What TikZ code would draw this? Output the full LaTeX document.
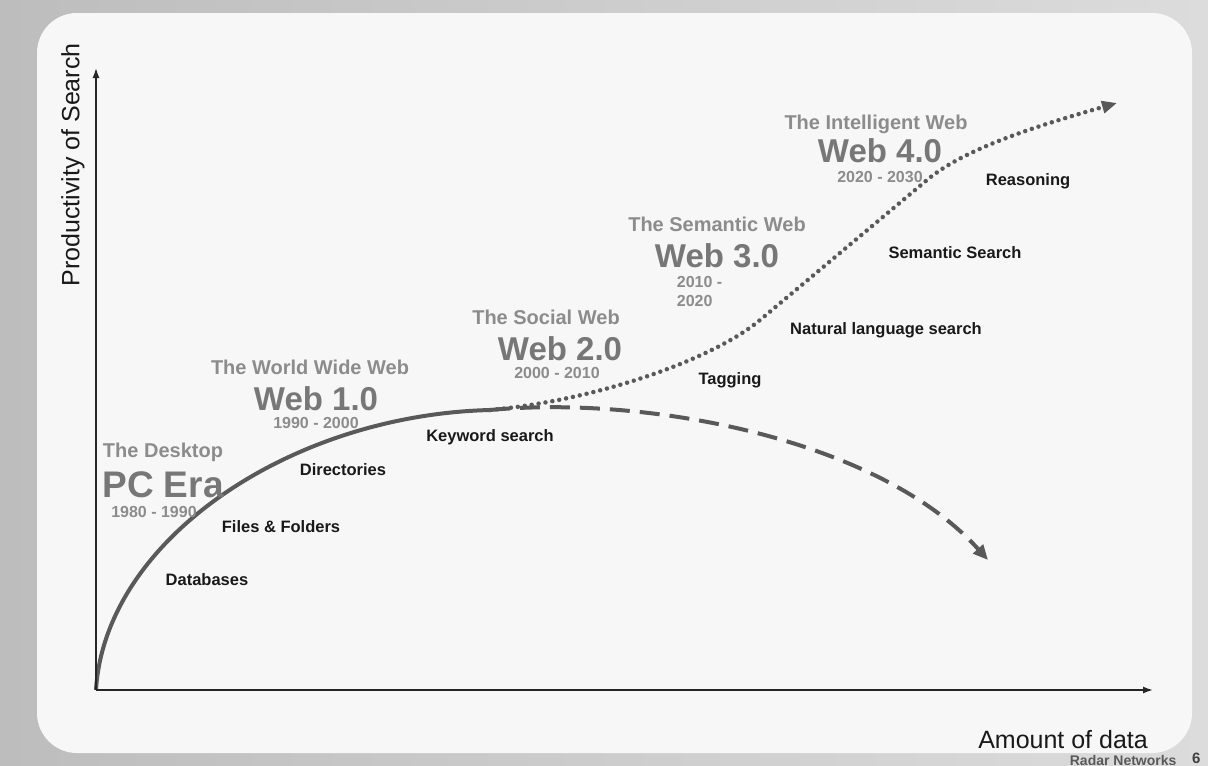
\documentclass[tikz,border=0pt]{standalone}
\usepackage{fontspec}
\setmainfont{Liberation Sans}
\usetikzlibrary{positioning,arrows.meta}
\definecolor{bgLeft}{HTML}{BDBDBD}
\definecolor{bgRight}{HTML}{DCDCDC}
\definecolor{panelWhite}{HTML}{F7F7F7}
\definecolor{titleGray}{HTML}{8C8C8C}
\definecolor{nameGray}{HTML}{777777}
\definecolor{curveGray}{HTML}{595959}
\begin{document}
\begin{tikzpicture}[x=1pt,y=-1pt,
        eraTitle/.style={
            inner sep=0pt, color=titleGray, font=\bfseries\fontsize{20}{24}\selectfont,
            text height=15pt, text depth=4pt
        },
        eraName/.style={
            inner sep=0pt, color=nameGray, font=\bfseries\fontsize{33}{36}\selectfont,
            text height=24pt, text depth=0pt
        },
        eraDate/.style={
            inner sep=0pt, color=titleGray, font=\bfseries\fontsize{16}{19}\selectfont,
            text height=12pt, text depth=0pt
        },
        searchTool/.style={
            inner sep=0pt, color=black!90, font=\bfseries\fontsize{16.5}{19}\selectfont
        },
        axisLabel/.style={
            inner sep=0pt, color=black!90, font=\fontsize{25}{28}\selectfont
        },
        axis/.style={
            draw=black!85, line width=1.5pt, -{Latex[length=10pt,width=7pt]}
        },
        trend/.style={
            draw=curveGray, line width=4pt
        },
    ]
        \useasboundingbox (0,0) rectangle (1208,766);
        \shade[left color=bgLeft, right color=bgRight] (0,0) rectangle (1208,766);
        \fill[panelWhite, rounded corners=40pt] (37,13) rectangle (1192,753);

        \coordinate (origin) at (96,690);
        \coordinate (yEnd) at (96,68);
        \coordinate (xEnd) at (1153,690);
        \coordinate (fork) at (490,410);
        \coordinate (riseStart) at (760,320);
        \coordinate (riseEnd) at (927,180);
        \coordinate (declineEnd) at (988,560);
        \coordinate (growthEnd) at (1117,103);

        \draw[trend] (origin) .. controls (105,540) and (290,415) .. (fork);
        \draw[trend, dash pattern=on 20pt off 10pt, -{Triangle[length=15pt,width=13pt]}]
            (fork) .. controls (650,395) and (880,440) .. (declineEnd);
        \draw[trend, line width=4.5pt, line cap=round, dash pattern=on 0pt off 7pt, -{Triangle[length=15pt,width=12pt]}]
            (fork) .. controls (600,400) and (715,358) .. (riseStart) -- (riseEnd)
            .. controls (965,148) and (1040,125) .. (growthEnd);

        \draw[axis] (origin) -- (yEnd);
        \draw[axis] (origin) -- (xEnd);
        \node (yLabel) [axisLabel, rotate=90] at (73,165) {Productivity of Search};
        \node (xLabel) [axisLabel, anchor=east] at (1148,740) {Amount of data};

        \node (pcTitle) [eraTitle] at (163,452) {The Desktop};
        \node (pcName) [eraName, font=\bfseries\fontsize{37}{40}\selectfont, text height=27pt, below=9pt of pcTitle] {PC Era};
        \node (pcDate) [eraDate, below=7pt of pcName, xshift=-9pt] {1980 - 1990};

        \node (webOneTitle) [eraTitle] at (310,369) {The World Wide Web};
        \node (webOne) [eraName, below=8pt of webOneTitle, xshift=6pt] {Web 1.0};
        \node (webOneDate) [eraDate, below=5pt of webOne] {1990 - 2000};

        \node (webTwoTitle) [eraTitle] at (546,319) {The Social Web};
        \node (webTwo) [eraName, below=8pt of webTwoTitle, xshift=14pt] {Web 2.0};
        \node (webTwoDate) [eraDate, below=5pt of webTwo, xshift=-3pt] {2000 - 2010};

        \node (webThreeTitle) [eraTitle] at (717,226) {The Semantic Web};
        \node (webThree) [eraName, below=8pt of webThreeTitle] {Web 3.0};
        \node (webThreeDate) [inner sep=0pt, color=titleGray, font=\bfseries\fontsize{16}{19}\selectfont, align=left,
            below=8pt of webThree.south west, anchor=north west, xshift=22pt] {2010 -\\2020};

        \node (webFourTitle) [eraTitle] at (876,124) {The Intelligent Web};
        \node (webFour) [eraName, below=5pt of webFourTitle, xshift=4pt] {Web 4.0};
        \node (webFourDate) [eraDate, below=7pt of webFour] {2020 - 2030};

        \node (databases) [searchTool] at (207,580) {Databases};
        \node (files) [searchTool] at (281,527) {Files \& Folders};
        \node (directories) [searchTool] at (343,470) {Directories};
        \node (keyword) [searchTool] at (490,437) {Keyword search};
        \node (tagging) [searchTool] at (730,380) {Tagging};
        \node (natural) [searchTool] at (886,330) {Natural language search};
        \node (semantic) [searchTool] at (955,253) {Semantic Search};
        \node (reasoning) [searchTool] at (1028,181) {Reasoning};

        \node (footer) [anchor=base east, color=black!65, font=\bfseries\fontsize{14}{16}\selectfont] at (1180,765) {Radar Networks};
        \node (pageNo) [anchor=base east, color=black!75, font=\bfseries\fontsize{15}{17}\selectfont] at (1204,763) {6};
    \end{tikzpicture}
\end{document}
